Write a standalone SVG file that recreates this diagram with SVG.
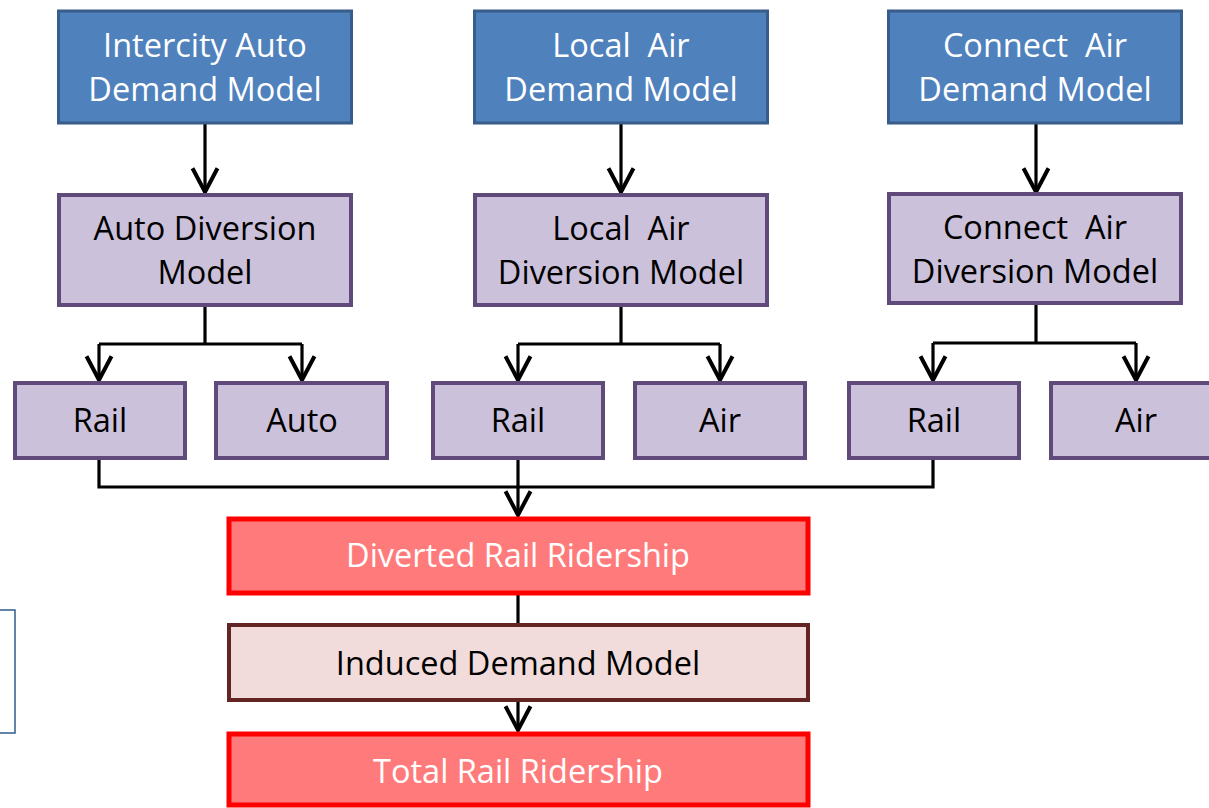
<svg xmlns="http://www.w3.org/2000/svg" width="1209" height="808" viewBox="0 0 1209 808">
<style>
text{font-family:"Open Sans","Noto Sans","Liberation Sans",sans-serif;font-size:32.5px;text-anchor:middle}
.blue rect{fill:#4F81BD;stroke:#385D8A;stroke-width:3}
.blue text{fill:#FFFFFF}
.purple rect{fill:#CCC1DA;stroke:#604A7B;stroke-width:4}
.purple text{fill:#000000}
.red rect{fill:#FF7B7B;stroke:#FF0000;stroke-width:5}
.red text{fill:#FFFFFF}
.pink rect{fill:#F2DCDB;stroke:#632523;stroke-width:4}
.pink text{fill:#000000}
.conn{fill:none;stroke:#000;stroke-width:3.2}
</style>
<defs>
<marker id="arr" markerUnits="userSpaceOnUse" orient="auto" markerWidth="30" markerHeight="30" viewBox="-22 -12 24 24" refX="0" refY="0">
<path d="M-19,-10 L0,0 L-19,10" fill="none" stroke="#000" stroke-width="3.2"/>
</marker>
</defs>
<rect width="1209" height="808" fill="#FFFFFF"/>
<g id="partial-left"><rect x="-100" y="610" width="115" height="123" fill="none" stroke="#2E5C8A" stroke-width="1.5"/></g>

<g id="connectors" class="conn">
<path d="M205,124 V192" marker-end="url(#arr)"/>
<path d="M621,124 V192" marker-end="url(#arr)"/>
<path d="M1036,124 V192" marker-end="url(#arr)"/>
<path d="M205,307 V344"/>
<path d="M99,344 H302"/>
<path d="M99,344 V380" marker-end="url(#arr)"/>
<path d="M302,344 V380" marker-end="url(#arr)"/>
<path d="M621,307 V344"/>
<path d="M518,344 H720"/>
<path d="M518,344 V380" marker-end="url(#arr)"/>
<path d="M720,344 V380" marker-end="url(#arr)"/>
<path d="M1036,305 V343"/>
<path d="M933,343 H1136"/>
<path d="M933,343 V380" marker-end="url(#arr)"/>
<path d="M1136,343 V380" marker-end="url(#arr)"/>
<path d="M99,460 V487 H933 V460"/>
<path d="M518,460 V515" marker-end="url(#arr)"/>
<path d="M518,595 V623"/>
<path d="M518,702 V730" marker-end="url(#arr)"/>
</g>

<g id="intercity-auto-demand" class="blue"><rect x="58.5" y="11" width="293" height="112"/><text x="205" y="57">Intercity Auto</text><text x="205" y="101">Demand Model</text></g>
<g id="local-air-demand" class="blue"><rect x="474.5" y="11" width="293" height="112"/><text x="621" y="57" xml:space="preserve">Local  Air</text><text x="621" y="101">Demand Model</text></g>
<g id="connect-air-demand" class="blue"><rect x="888.5" y="11" width="293" height="112"/><text x="1035" y="57" xml:space="preserve">Connect  Air</text><text x="1035" y="101">Demand Model</text></g>

<g id="auto-diversion" class="purple"><rect x="59" y="195" width="292" height="110"/><text x="205" y="240">Auto Diversion</text><text x="205" y="284">Model</text></g>
<g id="local-air-diversion" class="purple"><rect x="475" y="195" width="292" height="110"/><text x="621" y="240" xml:space="preserve">Local  Air</text><text x="621" y="284">Diversion Model</text></g>
<g id="connect-air-diversion" class="purple"><rect x="889" y="194" width="292" height="109"/><text x="1035" y="239" xml:space="preserve">Connect  Air</text><text x="1035" y="283">Diversion Model</text></g>

<g id="rail-1" class="purple"><rect x="15" y="383" width="170" height="75"/><text x="100" y="432">Rail</text></g>
<g id="auto-1" class="purple"><rect x="216" y="383" width="171" height="75"/><text x="302" y="432">Auto</text></g>
<g id="rail-2" class="purple"><rect x="433" y="383" width="170" height="75"/><text x="518" y="432">Rail</text></g>
<g id="air-2" class="purple"><rect x="635" y="383" width="170" height="75"/><text x="720" y="432">Air</text></g>
<g id="rail-3" class="purple"><rect x="849" y="383" width="170" height="75"/><text x="934" y="432">Rail</text></g>
<g id="air-3" class="purple"><rect x="1051" y="383" width="170" height="75"/><text x="1136" y="432">Air</text></g>

<g id="diverted-rail-ridership" class="red"><rect x="229" y="519" width="579" height="74"/><text x="518" y="567">Diverted Rail Ridership</text></g>
<g id="induced-demand-model" class="pink"><rect x="229" y="625" width="579" height="75"/><text x="518" y="675">Induced Demand Model</text></g>
<g id="total-rail-ridership" class="red"><rect x="229" y="734" width="579" height="71"/><text x="518" y="783">Total Rail Ridership</text></g>
</svg>
